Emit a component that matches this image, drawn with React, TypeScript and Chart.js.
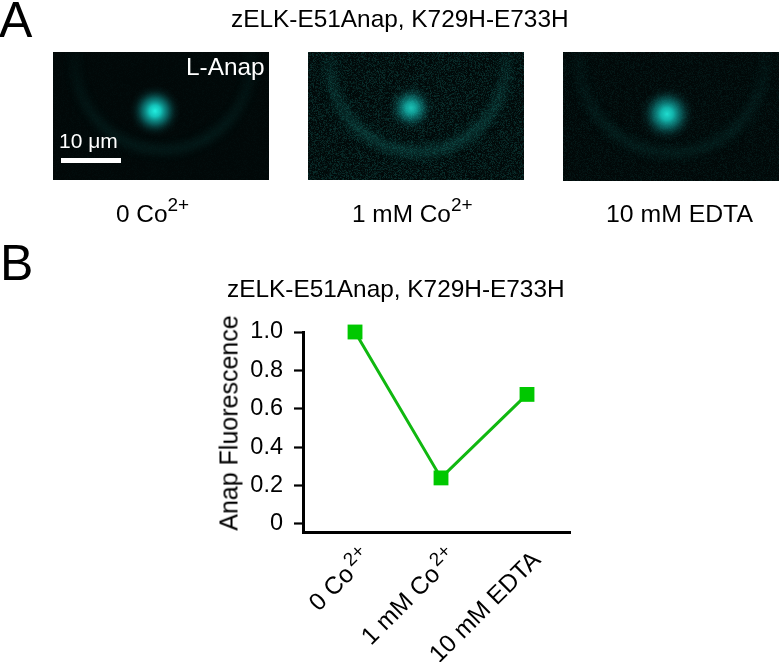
import React, { useEffect, useRef } from "react";
import { Chart, registerables } from "chart.js";

Chart.register(...registerables);

const categories = ["0 Co   ", "1 mM Co   ", "10 mM EDTA"];
const superscripts = ["2+", "2+", ""];
const fluorescence = [1.0, 0.24, 0.675];
const yTicks = [0, 0.2, 0.4, 0.6, 0.8, 1.0];
const yTickLabels = ["0", "0.2", "0.4", "0.6", "0.8", "1.0"];
const FONT = "'Liberation Sans', Arial, sans-serif";

const panels = [
  { x: 53, y: 52, w: 216, h: 128, sx: 155, sy: 111, sr: 26, cx: 163, cy: 62, r: 88, ring: 0.1, grain: 3, peak: 1 },
  { x: 308, y: 52, w: 216, h: 128, sx: 411, sy: 108, sr: 24, cx: 418, cy: 64, r: 88, ring: 0.24, grain: 22, peak: 0.8 },
  { x: 563, y: 52, w: 216, h: 129, sx: 667, sy: 114, sr: 28, cx: 672, cy: 60, r: 93, ring: 0.11, grain: 9, peak: 0.92 },
];

function hash(a: number, b: number) {
  let h = (a * 374761393 + b * 668265263) | 0;
  h = Math.imul(h ^ (h >>> 13), 1274126177);
  return ((h ^ (h >>> 16)) >>> 0) / 4294967296;
}

const panelPlugin = {
  id: "panels",
  beforeDraw(chart: any) {
    const ctx = chart.ctx as CanvasRenderingContext2D;
    ctx.save();
    ctx.fillStyle = "#fff";
    ctx.fillRect(0, 0, chart.width, chart.height);
    for (const p of panels) {
      ctx.save();
      ctx.beginPath();
      ctx.rect(p.x, p.y, p.w, p.h);
      ctx.clip();
      ctx.fillStyle = "#020808";
      ctx.fillRect(p.x, p.y, p.w, p.h);
      ctx.filter = "blur(4px)";
      const fade = ctx.createLinearGradient(0, p.y, 0, p.y + p.h);
      fade.addColorStop(0, `rgba(30,190,180,${p.ring * 0.35})`);
      fade.addColorStop(0.6, `rgba(30,190,180,${p.ring})`);
      fade.addColorStop(1, `rgba(30,190,180,${p.ring})`);
      ctx.strokeStyle = fade;
      ctx.lineWidth = 9;
      ctx.beginPath();
      ctx.arc(p.cx, p.cy, p.r, -0.15, Math.PI + 0.15);
      ctx.stroke();
      ctx.filter = "none";
      const g = ctx.createRadialGradient(p.sx, p.sy, 0, p.sx, p.sy, p.sr);
      g.addColorStop(0, `rgba(35,240,225,${p.peak})`);
      g.addColorStop(0.22, `rgba(22,215,205,${p.peak * 0.9})`);
      g.addColorStop(0.5, `rgba(14,150,148,${p.peak * 0.62})`);
      g.addColorStop(0.78, `rgba(8,80,80,${p.peak * 0.22})`);
      g.addColorStop(1, "rgba(5,40,40,0)");
      ctx.fillStyle = g;
      ctx.fillRect(p.x, p.y, p.w, p.h);
      for (let i = 0; i < p.w; i += 1) {
        for (let j = 0; j < p.h; j += 1) {
          const n = hash(i + p.x, j);
          ctx.fillStyle = `rgba(40,190,180,${(n * n * p.grain) / 100})`;
          ctx.fillRect(p.x + i, p.y + j, 1, 1);
        }
      }
      ctx.restore();
    }
    ctx.restore();
  },
  afterDraw(chart: any) {
    const ctx = chart.ctx as CanvasRenderingContext2D;
    const s = chart.scales.x;
    ctx.save();
    ctx.fillStyle = "#000";
    ctx.font = `19px ${FONT}`;
    ctx.textAlign = "right";
    ctx.textBaseline = "alphabetic";
    superscripts.forEach((t, i) => {
      if (!t) return;
      ctx.save();
      ctx.translate(s.getPixelForValue(i) + 11, s.top + 20);
      ctx.rotate(-Math.PI / 4);
      ctx.fillText(t, 0, 0);
      ctx.restore();
    });
    ctx.restore();
  },
};

const abs = (left: number, top: number, size: number, extra: any = {}) => ({
  position: "absolute" as const,
  left,
  top,
  fontSize: size,
  lineHeight: `${Math.round(size * 1.17)}px`,
  whiteSpace: "nowrap" as const,
  fontFamily: FONT,
  color: "#000",
  ...extra,
});
const Sup = ({ children }: any) => (
  <span style={{ fontSize: 19, position: "relative", top: -11 }}>{children}</span>
);

export default function App() {
  const ref = useRef<HTMLCanvasElement>(null);
  useEffect(() => {
    document.body.style.margin = "0";
    const chart = new Chart(ref.current!, {
      type: "line",
      data: {
        datasets: [
          {
            data: fluorescence.map((y, x) => ({ x, y })),
            borderColor: "#10b810",
            borderWidth: 3,
            backgroundColor: "#00c800",
            pointStyle: "rect",
            pointRadius: 10.5,
            pointBorderWidth: 0,
            clip: false,
          } as any,
        ],
      },
      plugins: [panelPlugin],
      options: {
        animation: false,
        responsive: false,
        layout: { padding: { top: 332, right: 209, left: 0, bottom: 0 } },
        plugins: { legend: { display: false }, tooltip: { enabled: false } },
        scales: {
          x: {
            type: "linear",
            min: -0.605,
            max: 2.5,
            afterBuildTicks: (s: any) => {
              s.ticks = categories.map((_, value) => ({ value }));
            },
            afterFit: (s: any) => {
              s.height = 130;
            },
            grid: { display: false, drawTicks: false },
            border: { display: true, color: "#000", width: 3 },
            ticks: {
              autoSkip: false,
              maxRotation: 45,
              minRotation: 45,
              color: "#000",
              font: { family: FONT, size: 24.5 },
              padding: 14,
              labelOffset: 10,
              callback: (v: any) => categories[v],
            },
          },
          y: {
            type: "linear",
            min: -0.0417,
            max: 1,
            afterBuildTicks: (s: any) => {
              s.ticks = yTicks.map((value) => ({ value }));
            },
            afterFit: (s: any) => {
              s.width = 303;
            },
            grid: { drawOnChartArea: false, drawTicks: true, tickLength: 9, tickWidth: 2.2, tickColor: "#000" },
            border: { display: true, color: "#000", width: 3 },
            ticks: {
              color: "#000",
              font: { family: FONT, size: 23.5 },
              padding: 11,
              callback: (v: any) => yTickLabels[yTicks.indexOf(v)],
            },
          },
        },
      },
    } as any);
    return () => chart.destroy();
  }, []);
  return (
    <div style={{ position: "absolute", left: 0, top: 0, width: 779, height: 662, overflow: "hidden", background: "#fff" }}>
      <canvas ref={ref} width={779} height={662} style={{ position: "absolute", left: 0, top: 0 }} />
      <div style={abs(-1, -9, 50)}>A</div>
      <div style={abs(0, 234, 50)}>B</div>
      <div style={abs(231, 4, 24.4)}>zELK-E51Anap, K729H-E733H</div>
      <div style={abs(227, 274, 24.4)}>zELK-E51Anap, K729H-E733H</div>
      <div style={abs(186, 52, 24.4, { color: "#fff" })}>L-Anap</div>
      <div style={abs(59, 128, 21, { color: "#fff" })}>10 μm</div>
      <div style={{ position: "absolute", left: 61, top: 158, width: 60, height: 5, background: "#fff" }} />
      <div style={abs(116, 199, 24.4)}>0 Co<Sup>2+</Sup></div>
      <div style={abs(352, 199, 24.4)}>1 mM Co<Sup>2+</Sup></div>
      <div style={abs(606, 199, 24.8)}>10 mM EDTA</div>
      <div style={abs(229, 423, 25, { transform: "translate(-50%,-50%) rotate(-90deg)" })}>Anap Fluorescence</div>
    </div>
  );
}
